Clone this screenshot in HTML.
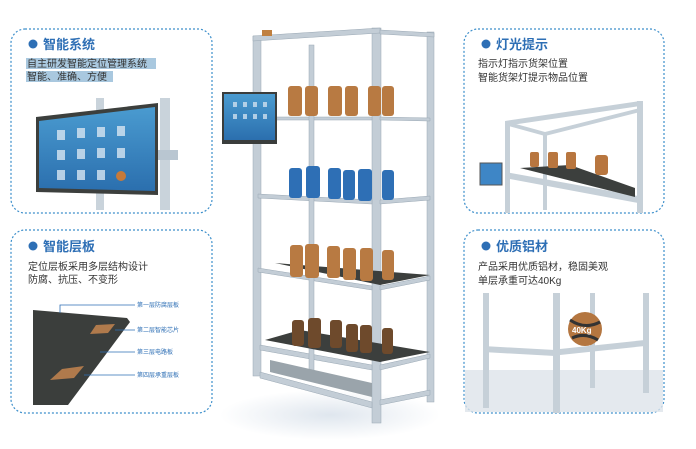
<!DOCTYPE html>
<html><head><meta charset="utf-8"><style>
html,body{margin:0;padding:0;background:#fff;width:696px;height:449px;overflow:hidden}
.f{font-family:"Liberation Sans","Noto Sans CJK SC",sans-serif}
</style></head><body>
<svg width="696" height="449" viewBox="0 0 696 449" xmlns="http://www.w3.org/2000/svg" class="f">
<defs>
<linearGradient id="scr" x1="0" y1="0" x2="0" y2="1"><stop offset="0" stop-color="#4a9bd0"/><stop offset="1" stop-color="#2b6fae"/></linearGradient>
<radialGradient id="flr" cx="0.5" cy="0.5" r="0.5"><stop offset="0" stop-color="#dfe6ee"/><stop offset="1" stop-color="#fff"/></radialGradient>
</defs>
<g fill="none" stroke="#3d8fcb" stroke-width="1.2" stroke-dasharray="2,2">
<rect x="11" y="29" width="201" height="184" rx="14"/>
<rect x="11" y="230" width="201" height="183" rx="14"/>
<rect x="464" y="29" width="200" height="184" rx="14"/>
<rect x="464" y="230" width="200" height="183" rx="14"/>
</g>
<g fill="#2e6fb5"><circle cx="33" cy="44" r="4.5"/><circle cx="33" cy="246" r="4.5"/><circle cx="486" cy="44" r="4.5"/><circle cx="486" cy="246" r="4.5"/></g>
<g font-size="13" font-weight="bold" fill="#2e6fb5">
<text x="43" y="49">智能系统</text><text x="43" y="251">智能层板</text>
<text x="496" y="49">灯光提示</text><text x="496" y="251">优质铝材</text>
</g>
<rect x="26" y="58" width="130" height="11" fill="#a9c8df"/>
<rect x="26" y="71" width="87" height="11" fill="#a9c8df"/>
<g font-size="10" fill="#333">
<text x="27" y="67">自主研发智能定位管理系统</text>
<text x="27" y="80">智能、准确、方便</text>
<text x="28" y="270">定位层板采用多层结构设计</text>
<text x="28" y="283">防腐、抗压、不变形</text>
<text x="478" y="67">指示灯指示货架位置</text>
<text x="478" y="81">智能货架灯提示物品位置</text>
<text x="478" y="270">产品采用优质铝材，稳固美观</text>
<text x="478" y="284">单层承重可达40Kg</text>
</g>
<rect x="96" y="98" width="8" height="112" fill="#c9d3db"/>
<rect x="160" y="98" width="10" height="112" fill="#c9d3db"/>
<rect x="158" y="150" width="20" height="10" fill="#b9c6d1"/>
<polygon points="36,117 158,103 158,195 36,192" fill="#3c3f3d"/>
<polygon points="39,121 155,107 155,191 39,188" fill="url(#scr)"/>
<g fill="#d8e6f2" opacity=".8">
<rect x="57" y="130" width="8" height="10"/><rect x="77" y="128" width="8" height="10"/><rect x="97" y="127" width="8" height="10"/><rect x="117" y="126" width="8" height="10"/>
<rect x="57" y="150" width="8" height="10"/><rect x="77" y="149" width="8" height="10"/><rect x="97" y="148" width="8" height="10"/><rect x="117" y="148" width="8" height="10"/>
<rect x="57" y="170" width="8" height="10"/><rect x="77" y="170" width="8" height="10"/><rect x="97" y="170" width="8" height="10"/></g>
<circle cx="121" cy="176" r="5" fill="#c67a3a"/>
<polygon points="33,310 127,318 130,322 68,405 33,405" fill="#3b3e3c"/>
<polygon points="96,325 115,324 108,333 90,334" fill="#b07a4c"/>
<polygon points="62,369 84,366 74,378 50,380" fill="#b07a4c"/>
<g stroke="#2e6fb5" stroke-width="0.8" fill="none">
<polyline points="60,313 60,305 135,305"/><line x1="115" y1="330" x2="135" y2="330"/>
<line x1="100" y1="352" x2="135" y2="352"/><line x1="84" y1="375" x2="135" y2="375"/></g>
<g font-size="6" fill="#2e6fb5"><text x="137" y="307">第一层防腐层板</text><text x="137" y="332">第二层智能芯片</text><text x="137" y="354">第三层电路板</text><text x="137" y="377">第四层承重层板</text></g>
<g fill="#c6d0d8">
<polygon points="505,121 640,101 640,106 505,126"/>
<polygon points="505,121 545,132 545,136 505,125"/>
<polygon points="545,132 640,108 640,112 545,136"/>
<rect x="505" y="121" width="5" height="92"/><rect x="637" y="101" width="6" height="112"/><rect x="543" y="132" width="4" height="78"/>
<polygon points="505,172 638,196 638,203 505,178"/></g>
<polygon points="520,168 570,165 635,188 635,197" fill="#3c3f3d"/>
<g fill="#b8763f"><rect x="530" y="152" width="9" height="15" rx="2"/><rect x="548" y="152" width="10" height="16" rx="2"/><rect x="566" y="152" width="10" height="17" rx="2"/><rect x="595" y="155" width="13" height="20" rx="3"/></g>
<rect x="480" y="163" width="22" height="22" fill="#3e86c6" stroke="#555"/>
<rect x="465" y="370" width="198" height="42" fill="#dde4ea" opacity=".8"/>
<g fill="#c6d0d8">
<rect x="483" y="293" width="6" height="115"/><rect x="553" y="293" width="7" height="120"/><rect x="590" y="293" width="5" height="95"/><rect x="643" y="293" width="6" height="100"/>
<polygon points="483,346 555,350 555,356 483,352"/><polygon points="560,349 645,340 645,346 560,355"/></g>
<circle cx="585" cy="329" r="17" fill="#b47640"/>
<path d="M570 320 Q585 330 600 322 M572 338 Q585 332 598 340" stroke="#333" stroke-width="3" fill="none"/>
<text x="572" y="333" font-size="8" font-weight="bold" fill="#fff">40Kg</text>
<ellipse cx="330" cy="415" rx="110" ry="25" fill="url(#flr)"/>
<g fill="#c3cdd6" stroke="#9aa8b4" stroke-width=".5">
<rect x="253" y="36" width="8" height="340"/>
<rect x="372" y="28" width="9" height="395"/>
<rect x="427" y="32" width="7" height="370"/>
<polygon points="253,36 380,28 380,33 253,41"/>
<polygon points="380,30 434,33 434,37 380,34"/>
<polygon points="261,117 372,117 372,120 261,120"/><polygon points="380,117 430,118 430,121 380,120"/>
<polygon points="258,194 372,200 372,204 258,198"/><polygon points="380,200 430,196 430,200 380,204"/>
<polygon points="258,268 372,286 372,290 258,272"/><polygon points="380,286 430,276 430,280 380,290"/>
<polygon points="260,345 372,365 372,370 260,350"/><polygon points="380,365 430,354 430,358 380,370"/>
<polygon points="260,372 372,402 372,408 260,378"/><polygon points="380,400 430,390 430,395 380,405"/>
<rect x="309" y="45" width="5" height="330"/>
</g>
<polygon points="275,263 300,265 430,275 380,285" fill="#3c3f3d"/>
<polygon points="265,340 300,330 430,352 380,362" fill="#3c3f3d"/>
<polygon points="270,360 372,383 372,397 270,372" fill="#9aa4ab"/>
<g fill="#b87a42">
<rect x="288" y="86" width="14" height="30" rx="3"/><rect x="305" y="86" width="13" height="30" rx="3"/><rect x="328" y="86" width="14" height="30" rx="3"/><rect x="345" y="86" width="13" height="30" rx="3"/><rect x="368" y="86" width="13" height="30" rx="3"/><rect x="382" y="86" width="12" height="30" rx="3"/>
<rect x="290" y="245" width="13" height="32" rx="3"/><rect x="305" y="244" width="14" height="34" rx="3"/><rect x="327" y="246" width="13" height="32" rx="3"/><rect x="343" y="248" width="13" height="32" rx="3"/><rect x="360" y="248" width="13" height="33" rx="3"/><rect x="382" y="250" width="12" height="30" rx="3"/>
</g>
<g fill="#2e6fb5">
<rect x="289" y="168" width="13" height="30" rx="3"/><rect x="306" y="166" width="14" height="32" rx="3"/><rect x="328" y="168" width="13" height="31" rx="3"/><rect x="343" y="170" width="12" height="30" rx="3"/><rect x="358" y="169" width="14" height="32" rx="3"/><rect x="382" y="170" width="12" height="30" rx="3"/>
</g>
<g fill="#6e4a2c">
<rect x="292" y="320" width="12" height="26" rx="3"/><rect x="308" y="318" width="13" height="30" rx="3"/><rect x="330" y="320" width="12" height="28" rx="3"/><rect x="346" y="324" width="12" height="28" rx="3"/><rect x="360" y="325" width="12" height="28" rx="3"/><rect x="382" y="328" width="11" height="26" rx="3"/>
</g>
<rect x="262" y="30" width="10" height="6" fill="#c08040"/>
<rect x="222" y="92" width="55" height="52" fill="#3a3d3c"/>
<rect x="224" y="94" width="51" height="46" fill="url(#scr)"/>
<g fill="#cfe0ef" opacity=".8"><rect x="233" y="102" width="4" height="5"/><rect x="243" y="102" width="4" height="5"/><rect x="253" y="102" width="4" height="5"/><rect x="263" y="102" width="4" height="5"/>
<rect x="233" y="114" width="4" height="5"/><rect x="243" y="114" width="4" height="5"/><rect x="253" y="114" width="4" height="5"/><rect x="263" y="114" width="4" height="5"/></g>
</svg>
</body></html>
